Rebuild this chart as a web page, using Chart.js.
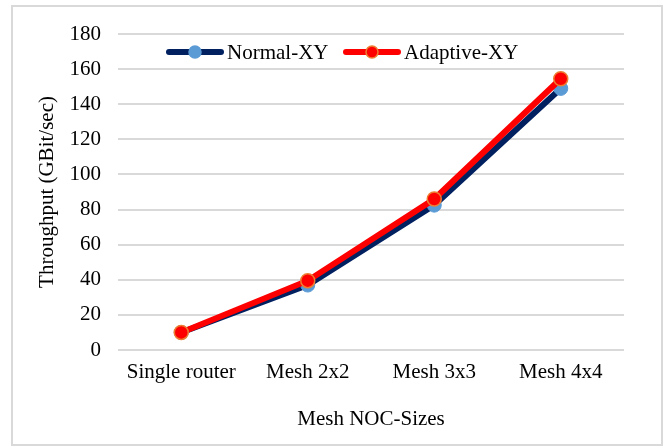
<!DOCTYPE html>
<html>
<head>
<meta charset="utf-8">
<script src="https://cdn.jsdelivr.net/npm/chart.js@4.4.1/dist/chart.umd.min.js"></script>
<style>
  html, body { margin: 0; padding: 0; background: #fff; overflow: hidden; }
  #wrap { position: relative; width: 670px; height: 446px; }
  #frame { position: absolute; left: 11px; top: 5px; width: 652px; height: 441px; border: 2px solid #d9d9d9; box-sizing: border-box; pointer-events: none; }
  canvas { position: absolute; left: 0; top: 0; }
</style>
</head>
<body>
<div id="wrap">
  <canvas id="c" width="670" height="446"></canvas>
  <div id="frame"></div>
</div>
<script>
const categories = ["Single router", "Mesh 2x2", "Mesh 3x3", "Mesh 4x4"];
const normalXY = [10, 37, 82.5, 149];
const adaptiveXY = [10, 39.5, 86, 154.5];
const seriesNames = ["Normal-XY", "Adaptive-XY"];
const yTicks = { min: 0, max: 180, step: 20 };
const xTitle = "Mesh NOC-Sizes";
const yTitle = "Throughput (GBit/sec)";

const FONT = "'Liberation Serif', 'Times New Roman', serif";
const NAVY = "#002060", LBLUE = "#5B9BD5", RED = "#FF0000", ORANGE = "#ED7D31";

const legendPlugin = {
  id: "customLegend",
  afterDraw(chart) {
    const ctx = chart.ctx;
    const y = 52;
    const items = [
      { label: seriesNames[0], line: NAVY, fill: LBLUE, stroke: LBLUE, x: 167 },
      { label: seriesNames[1], line: RED, fill: RED, stroke: ORANGE, x: 344 }
    ];
    ctx.save();
    ctx.font = "21px " + FONT;
    ctx.textBaseline = "middle";
    ctx.textAlign = "left";
    items.forEach(it => {
      ctx.strokeStyle = it.line;
      ctx.lineWidth = 6;
      ctx.lineCap = "round";
      ctx.beginPath();
      ctx.moveTo(it.x + 2, y);
      ctx.lineTo(it.x + 54, y);
      ctx.stroke();
      ctx.beginPath();
      ctx.arc(it.x + 28, y, 6, 0, Math.PI * 2);
      ctx.fillStyle = it.fill;
      ctx.fill();
      ctx.lineWidth = 1.5;
      ctx.strokeStyle = it.stroke;
      ctx.stroke();
      ctx.fillStyle = "#000";
      ctx.fillText(it.label, it.x + 60, y + 1);
    });
    ctx.restore();
  }
};

new Chart(document.getElementById("c"), {
  type: "line",
  data: {
    labels: categories,
    datasets: [
      {
        label: seriesNames[0], data: normalXY, order: 2,
        borderColor: NAVY, borderWidth: 6, tension: 0,
        pointRadius: 7, pointBackgroundColor: LBLUE, pointBorderColor: LBLUE, pointBorderWidth: 1
      },
      {
        label: seriesNames[1], data: adaptiveXY, order: 1,
        borderColor: RED, borderWidth: 6, tension: 0,
        pointRadius: 7, pointBackgroundColor: RED, pointBorderColor: ORANGE, pointBorderWidth: 1.5
      }
    ]
  },
  options: {
    responsive: false,
    animation: false,
    events: [],
    layout: { padding: { left: 31, right: 46, top: 34, bottom: 10 } },
    plugins: { legend: { display: false }, tooltip: { enabled: false } },
    scales: {
      x: {
        offset: true,
        grid: { display: false, drawTicks: false },
        border: { display: false },
        ticks: { color: "#000", font: { family: FONT, size: 21 }, padding: 10, maxRotation: 0 },
        title: { display: true, text: xTitle, color: "#000", font: { family: FONT, size: 21 }, padding: { top: 4, bottom: 4 } },
        afterFit(s) { s.height = 86; }
      },
      y: {
        min: yTicks.min, max: yTicks.max,
        grid: { color: "#d9d9d9", lineWidth: 2, drawTicks: false },
        border: { display: false },
        ticks: { stepSize: yTicks.step, color: "#000", font: { family: FONT, size: 21 }, padding: 17 },
        title: { display: true, text: yTitle, color: "#000", font: { family: FONT, size: 21 }, padding: { top: 4, bottom: 4 } },
        afterFit(s) { s.width = 87; }
      }
    }
  },
  plugins: [legendPlugin]
});
</script>
</body>
</html>
